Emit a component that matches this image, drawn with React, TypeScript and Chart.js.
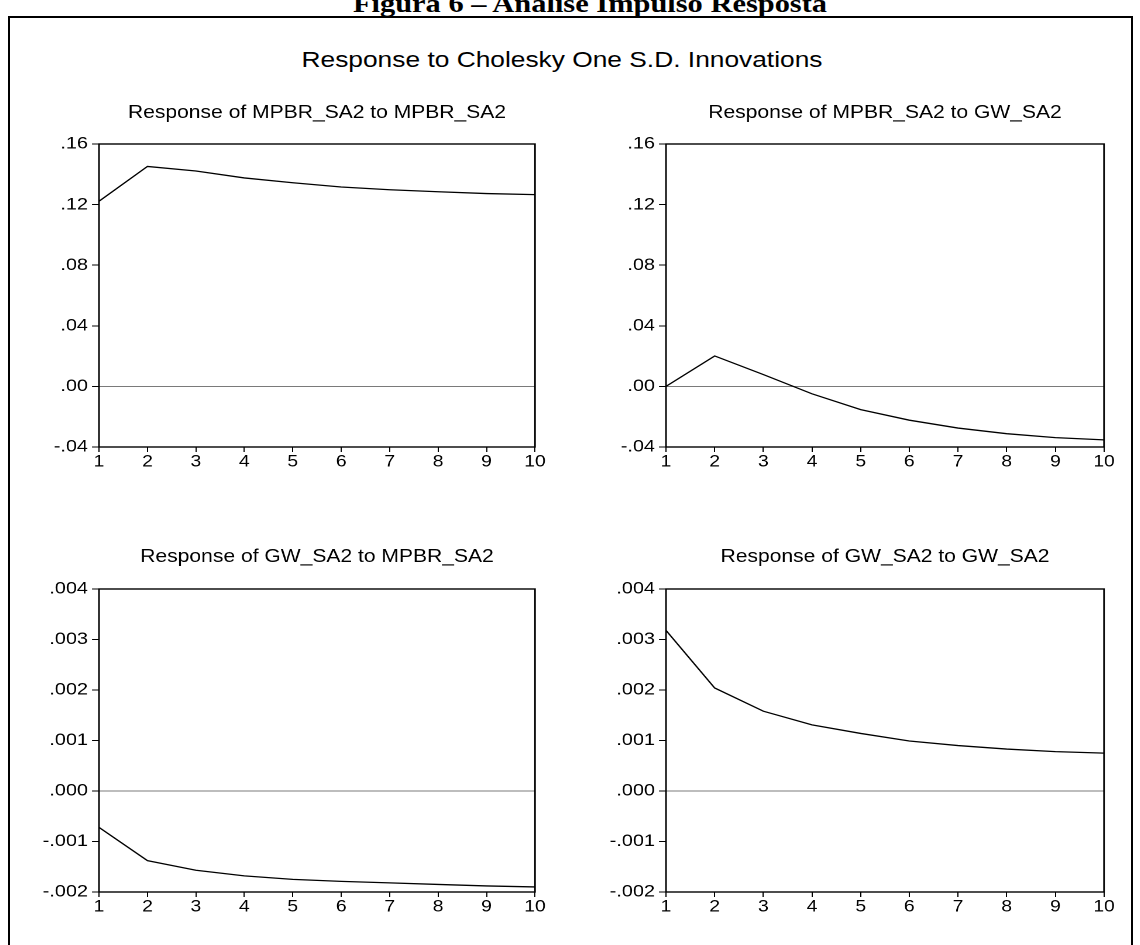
import React, { useEffect, useRef } from "react";
import { Chart, registerables } from "chart.js";

Chart.register(...registerables);

const periods = ["1", "2", "3", "4", "5", "6", "7", "8", "9", "10"];

const mpbrToMpbr = [0.1222, 0.1452, 0.1422, 0.1376, 0.1344, 0.1316, 0.1298, 0.1285, 0.1273, 0.1266];
const mpbrToGw = [0.0, 0.0201, 0.0078, -0.0049, -0.0153, -0.0223, -0.0275, -0.0312, -0.0338, -0.0353];
const gwToMpbr = [-0.00072, -0.00138, -0.00157, -0.00168, -0.00175, -0.00179, -0.00182, -0.00185, -0.00188, -0.0019];
const gwToGw = [0.00318, 0.00204, 0.00158, 0.00131, 0.00114, 0.00099, 0.0009, 0.00083, 0.00078, 0.00075];

const topTicks = [-0.04, 0.0, 0.04, 0.08, 0.12, 0.16];
const bottomTicks = [-0.002, -0.001, 0.0, 0.001, 0.002, 0.003, 0.004];

const FONT = 'Arial, "Liberation Sans", sans-serif';
const SX = 1.17;

function fmt(v: number, decimals: number): string {
  const s = Math.abs(v).toFixed(decimals).replace(/^0/, "");
  return (v < -1e-12 ? "-" : "") + s;
}

const framePlugin = {
  id: "frame",
  afterDraw(chart: any) {
    const { ctx, chartArea } = chart;
    ctx.save();
    ctx.strokeStyle = "#000";
    ctx.lineWidth = 1.4;
    ctx.strokeRect(chartArea.left, chartArea.top, chartArea.right - chartArea.left, chartArea.bottom - chartArea.top);
    ctx.restore();
  },
};

type PanelProps = {
  canvasLeft: number;
  canvasRight: number;
  plotLeft: number;
  plotRight: number;
  top: number;
  title: string;
  values: number[];
  ticks: number[];
  decimals: number;
  titlePadTop: number;
};

function Panel({ canvasLeft, canvasRight, plotLeft, plotRight, top, title, values, ticks, decimals, titlePadTop }: PanelProps) {
  const ref = useRef<HTMLCanvasElement | null>(null);
  const W = Math.round((canvasRight - canvasLeft) / SX);
  const H = 390;
  const yAxisW = (plotLeft - canvasLeft) / SX;
  const plotW = (plotRight - plotLeft) / SX;
  const rightPad = W - yAxisW - plotW;
  const titleSize = 18;
  useEffect(() => {
    if (!ref.current) return;
    const chart = new Chart(ref.current, {
      type: "line",
      data: {
        labels: periods,
        datasets: [
          {
            data: values,
            borderColor: "#000",
            borderWidth: 1.3,
            pointRadius: 0,
            tension: 0,
            fill: false,
          },
        ],
      },
      options: {
        responsive: false,
        animation: false,
        devicePixelRatio: 2,
        layout: { padding: { left: 0, right: rightPad, top: 0, bottom: 0 } },
        plugins: {
          legend: { display: false },
          tooltip: { enabled: false },
          title: {
            display: true,
            text: title,
            fullSize: false,
            color: "#000",
            font: { family: FONT, size: titleSize, weight: "normal", lineHeight: 1.2 },
            padding: { top: titlePadTop, bottom: 54 - titlePadTop - titleSize * 1.2 },
          },
        },
        scales: {
          x: {
            type: "category",
            offset: false,
            border: { display: false },
            grid: { display: true, drawOnChartArea: false, drawTicks: true, tickLength: 5, color: "#000", tickColor: "#000" },
            ticks: { color: "#000", font: { family: FONT, size: 16.5 }, padding: 0, maxRotation: 0, autoSkip: false },
            afterFit: (s: any) => {
              s.height = 33;
            },
          },
          y: {
            type: "linear",
            min: ticks[0],
            max: ticks[ticks.length - 1],
            border: { display: false },
            afterBuildTicks: (s: any) => {
              s.ticks = ticks.map((v) => ({ value: v }));
            },
            afterFit: (s: any) => {
              s.width = yAxisW;
            },
            grid: {
              display: true,
              drawOnChartArea: true,
              drawTicks: true,
              tickLength: 7 / SX,
              lineWidth: 1,
              color: (c: any) => (c.tick && Math.abs(c.tick.value) < 1e-12 ? "#7a7a7a" : "rgba(0,0,0,0)"),
              tickColor: "#000",
            },
            ticks: {
              color: "#000",
              font: { family: FONT, size: 17 },
              padding: 4 / SX,
              callback: (v: any) => fmt(Number(v), decimals),
            },
          },
        },
      },
      plugins: [framePlugin],
    });
    return () => chart.destroy();
  }, []);
  return (
    <canvas
      ref={ref}
      style={{
        position: "absolute",
        left: canvasLeft,
        top,
        width: W,
        height: H,
        transform: `scaleX(${SX})`,
        transformOrigin: "0 0",
      }}
    />
  );
}

export default function App() {
  return (
    <div style={{ position: "fixed", left: 0, top: 0, width: 1140, height: 945, overflow: "hidden", background: "#fff" }}>
      <div
        style={{
          position: "absolute",
          left: 20,
          top: -12,
          width: 1140,
          textAlign: "center",
          fontFamily: '"Times New Roman", "Liberation Serif", serif',
          fontWeight: "bold",
          fontSize: 26,
          lineHeight: "32px",
          color: "#000",
          whiteSpace: "nowrap",
          transform: `scaleX(${SX})`,
        }}
      >
        Figura 6 – Análise Impulso Resposta
      </div>
      <div
        style={{
          position: "absolute",
          left: 8,
          top: 16,
          width: 1125,
          height: 1000,
          border: "2px solid #000",
          boxSizing: "border-box",
        }}
      />
      <div
        style={{
          position: "absolute",
          left: -8,
          top: 45,
          width: 1140,
          textAlign: "center",
          fontFamily: FONT,
          fontSize: 22.5,
          lineHeight: "30px",
          color: "#000",
          whiteSpace: "nowrap",
          transform: `scaleX(${SX})`,
        }}
      >
        Response to Cholesky One S.D. Innovations
      </div>
      <Panel canvasLeft={20} canvasRight={560} plotLeft={99} plotRight={535} top={90} title="Response of MPBR_SA2 to MPBR_SA2" values={mpbrToMpbr} ticks={topTicks} decimals={2} titlePadTop={12} />
      <Panel canvasLeft={587} canvasRight={1127} plotLeft={666} plotRight={1104} top={90} title="Response of MPBR_SA2 to GW_SA2" values={mpbrToGw} ticks={topTicks} decimals={2} titlePadTop={12} />
      <Panel canvasLeft={20} canvasRight={560} plotLeft={99} plotRight={535} top={535} title="Response of GW_SA2 to MPBR_SA2" values={gwToMpbr} ticks={bottomTicks} decimals={3} titlePadTop={11} />
      <Panel canvasLeft={587} canvasRight={1127} plotLeft={666} plotRight={1104} top={535} title="Response of GW_SA2 to GW_SA2" values={gwToGw} ticks={bottomTicks} decimals={3} titlePadTop={11} />
    </div>
  );
}
